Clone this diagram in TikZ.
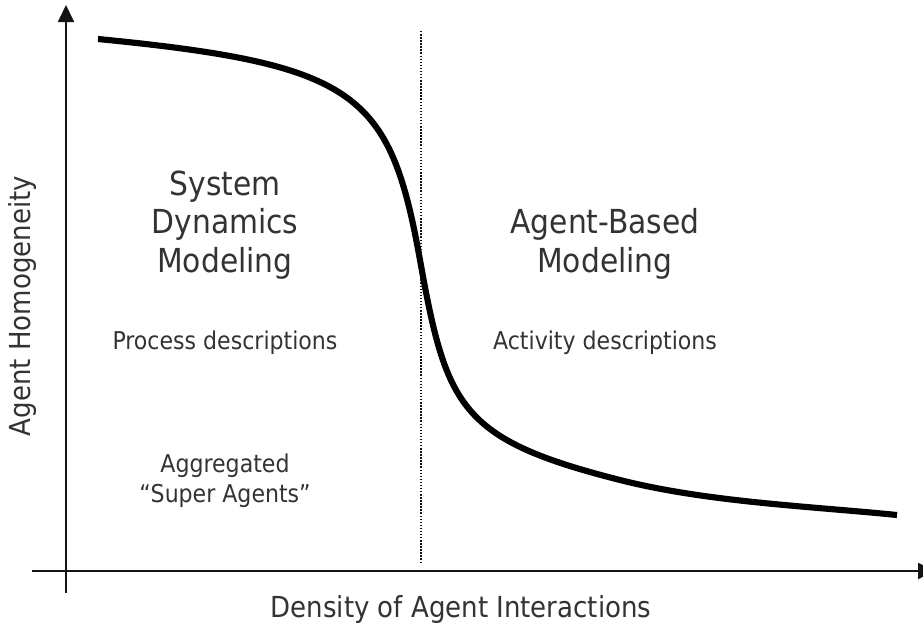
\documentclass[tikz,border=0pt]{standalone}
\usepackage{fontspec}
\setmainfont{DejaVu Sans Condensed}
\usepackage{tikz}
\usetikzlibrary{arrows.meta, positioning}
\definecolor{textdark}{RGB}{51, 51, 51}
\definecolor{axisdark}{RGB}{20, 20, 20}

\begin{document}
\begin{tikzpicture}[x=0.75pt, y=-0.75pt,
    bigtext/.style={color=textdark, align=center, font=\fontsize{24.8}{28.6}\selectfont},
    smalltext/.style={color=textdark, align=center, font=\fontsize{18.4}{22.5}\selectfont},
    axislabel/.style={color=textdark, font=\fontsize{21.7}{26}\selectfont},
    axisline/.style={draw=axisdark, line width=1.4pt, -{Triangle[length=12.75pt, width=12pt]}}]
    \useasboundingbox (0,0) rectangle (923,625);

    % Axes
    \coordinate (ybot) at (66,593);
    \coordinate (ytop) at (66,5);
    \coordinate (xleft) at (32,571);
    \coordinate (xright) at (935,571);
    \draw[axisline] (ybot) -- (ytop);
    \draw[axisline] (xleft) -- (xright);

    % Divider between the two regimes
    \coordinate (divtop) at (421,31);
    \coordinate (divbot) at (421,562);
    \draw[draw=axisdark, line width=1.1pt, dash pattern=on 1.1pt off 1.2pt] (divtop) -- (divbot);

    % Transition curve
    \coordinate (cstart) at (98,39);
    \coordinate (cmid) at (420,260);
    \coordinate (cbend) at (620,480);
    \coordinate (cend) at (897,515);
    \draw[line width=4.6pt, line cap=butt]
        (cstart) .. controls (358,64.5) and (390,93) .. (cmid)
                 .. controls (446.5,407.6) and (460,439.4) .. (cbend)
                 .. controls (707,502) and (807,506) .. (cend);

    % Left side
    \node (sdm) at (225,272) [bigtext, anchor=base] {System\\Dynamics\\Modeling};
    \node (process) at (225,349) [smalltext, anchor=base] {Process descriptions};
    \node (aggr) at (225,502) [smalltext, anchor=base] {Aggregated\\“Super Agents”};

    % Right side
    \node (abm) at (605,272) [bigtext, anchor=base] {Agent-Based\\Modeling};
    \node (activity) at (605,349) [smalltext, anchor=base] {Activity descriptions};

    % Axis labels
    \node (xlabel) at (461,617) [axislabel, anchor=base] {Density of Agent Interactions};
    \node (ylabel) at (31,306) [axislabel, anchor=base, rotate=90] {Agent Homogeneity};
\end{tikzpicture}
\end{document}
